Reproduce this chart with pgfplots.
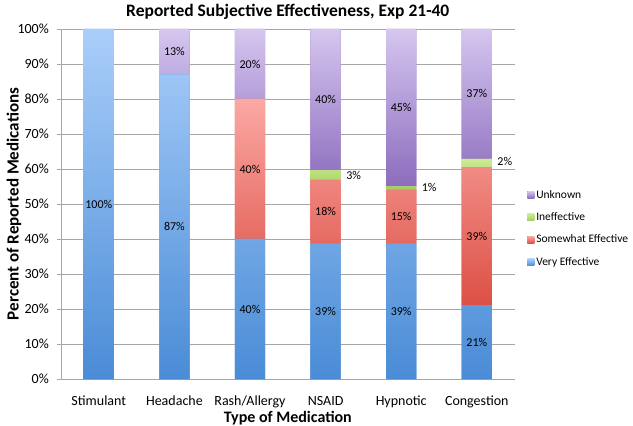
\documentclass[border=0pt]{standalone}
\usepackage{pgfplots}
\pgfplotsset{compat=1.18}
\usepackage{fontspec}
\setmainfont{Carlito}
\definecolor{veryT}{HTML}{AACEFA}
\definecolor{veryB}{HTML}{4A8CD6}
\definecolor{someT}{HTML}{FBA8A3}
\definecolor{someB}{HTML}{DC5045}
\definecolor{ineffT}{HTML}{CDEB95}
\definecolor{ineffB}{HTML}{A2CE5C}
\definecolor{unkT}{HTML}{D5C6EF}
\definecolor{unkB}{HTML}{8C6CBD}
\definecolor{axgray}{HTML}{A6A6A6}
\pgfplotstableread{
x v
0 100
1 87
2 40
3 38.7
4 38.7
5 21.1
}\very
\pgfplotstableread{
x v
0 0
1 0
2 40
3 18.2
4 15.3
5 39.4
}\somewhat
\pgfplotstableread{
x v
0 0
1 0
2 0
3 2.8
4 1.0
5 2.4
}\ineff
\pgfplotstableread{
x v
0 0
1 13
2 20
3 40.3
4 45.0
5 37.1
}\unknown
% segment labels: x, y (segment centre), label
\pgfplotstableread{
x y l
0 50 100
1 43.5 87
2 20 40
3 19.35 39
4 19.35 39
5 10.55 21
2 60 40
3 47.8 18
4 46.35 15
5 40.8 39
1 93.5 13
2 90 20
3 79.85 40
4 77.5 45
5 81.45 37
}\inlabels
\pgfplotstableread{
x y l
3.2 58.1 3
4.2 54.8 1
5.2 62.1 2
}\outlabels
\pgfplotsset{geom/.style={scale only axis, width=453.6pt, height=350pt,
  xmin=-0.5, xmax=5.5, ymin=0, ymax=100}}
\begin{document}
\begin{tikzpicture}
\begin{axis}[
  geom,
  ybar stacked, bar width=0.4,
  axis x line*=bottom, axis y line*=left,
  axis line style={axgray, line width=0.8pt},
  tick align=outside,
  xtick={0,...,5},
  xticklabels={Stimulant,Headache,Rash/Allergy,NSAID,Hypnotic,Congestion},
  major x tick style={draw=none},
  extra x ticks={-0.5,0.5,1.5,2.5,3.5,4.5,5.5},
  extra x tick labels={},
  extra x tick style={grid=none, tick style={axgray, line width=0.8pt}, major tick length=4pt},
  ytick={0,10,...,100},
  yticklabel={\pgfmathprintnumber{\tick}\%},
  /pgf/number format/assume math mode=true,
  ytick style={axgray, line width=0.8pt}, major tick length=4pt,
  ymajorgrids, grid style={axgray, line width=0.8pt},
  ticklabel style={font=\fontsize{14}{16}\selectfont},
  xticklabel style={anchor=base, yshift=-22pt},
  yticklabel style={anchor=east, inner sep=0pt, xshift=-8pt},
  every axis title shift=0pt,
  title={Reported Subjective Effectiveness, Exp 21-40},
  title style={font=\bfseries\fontsize{17.5}{20}\selectfont, at={(axis description cs:0.5,1)}, anchor=base, yshift=12pt},
  xlabel={Type of Medication},
  ylabel={Percent of Reported Medications},
  every axis x label/.style={at={(axis description cs:0.5,0)}, anchor=center, yshift=-39pt, font=\bfseries\fontsize{16}{18}\selectfont},
  every axis y label/.style={at={(axis description cs:0,0.5)}, xshift=-47pt, rotate=90, anchor=center, font=\bfseries\fontsize{17}{19}\selectfont},
  reverse legend,
  legend cell align=left,
  legend style={draw=none, fill=none, at={(axis description cs:1,0.43)}, anchor=west, xshift=12.5pt, font=\fontsize{11.5}{13}\selectfont, row sep=9pt, inner sep=0pt},
  legend image code/.code={\fill[#1, draw=none] (0pt,-3.5pt) rectangle (7pt,3.5pt);},
]
\addplot[draw=none, top color=veryT, bottom color=veryB, fill=veryB] table[x=x, y=v] {\very};
\addlegendentry{Very Effective}
\addplot[draw=none, top color=someT, bottom color=someB, fill=someB] table[x=x, y=v] {\somewhat};
\addlegendentry{Somewhat Effective}
\addplot[draw=none, top color=ineffT, bottom color=ineffB, fill=ineffB] table[x=x, y=v] {\ineff};
\addlegendentry{Ineffective}
\addplot[draw=none, top color=unkT, bottom color=unkB, fill=unkB] table[x=x, y=v] {\unknown};
\addlegendentry{Unknown}
\end{axis}
\begin{axis}[geom, hide axis]
\addplot[draw=none, mark=none, point meta=explicit symbolic,
  nodes near coords={\pgfplotspointmeta\%},
  every node near coord/.append style={font=\fontsize{12}{14}\selectfont, text=black, anchor=center}]
  table[x=x, y=y, meta=l] {\inlabels};
\addplot[draw=none, mark=none, point meta=explicit symbolic,
  nodes near coords={\pgfplotspointmeta\%},
  every node near coord/.append style={font=\fontsize{12}{14}\selectfont, text=black, anchor=west, xshift=2pt}]
  table[x=x, y=y, meta=l] {\outlabels};
\end{axis}
\pgfresetboundingbox
\path[use as bounding box] (-61pt,-47pt) rectangle (572pt,379pt);
\end{tikzpicture}
\end{document}
